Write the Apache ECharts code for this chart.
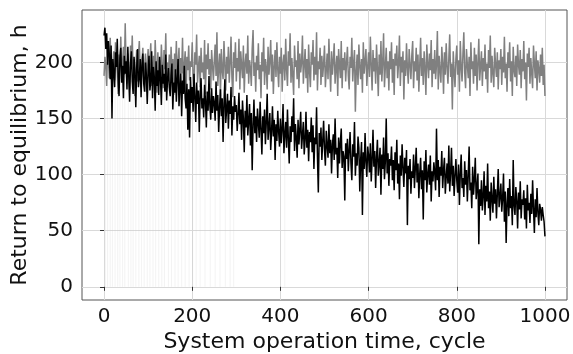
<!DOCTYPE html>
<html>
<head>
<meta charset="utf-8">
<script src="https://cdn.jsdelivr.net/npm/echarts@6/dist/echarts.min.js"></script>
<style>
html,body{margin:0;padding:0;background:#fff;}
#main{width:573px;height:354px;}
</style>
</head>
<body>
<div id="main"></div>
<script>
// cycles sampled every 2
var cycles = [];
for (var c = 0; c <= 1000; c += 2) cycles.push(c);

// grey series (stable around 190), one row = 50 cycles
var greyVals = [
	188,205,196,179,214,201,186,222,193,177,199,210,184,218,203,191,172,207,196,223,185,200,214,189,235,
	197,181,208,192,176,215,199,224,187,203,170,194,211,183,206,219,190,178,201,213,186,195,208,174,199,
	212,188,201,217,179,193,206,184,220,197,173,209,191,202,185,216,198,177,211,194,226,183,200,189,207,
	180,214,195,203,171,208,192,219,186,199,213,176,204,190,222,181,197,210,168,205,193,215,184,201,196,
	218,187,174,209,198,225,182,195,206,178,213,191,200,185,220,172,207,194,217,189,203,176,211,197,184,
	201,216,188,227,179,196,208,170,212,193,185,219,198,175,205,190,214,182,200,223,187,169,209,195,218,
	183,204,192,221,176,210,197,186,215,173,199,208,190,224,181,202,195,179,212,229,188,200,174,206,193,
	217,185,198,168,209,192,222,180,203,195,176,214,189,201,220,183,207,172,196,211,187,218,194,178,205,
	190,213,174,199,207,184,221,193,179,210,197,226,182,204,188,171,215,196,202,185,219,177,208,191,200,
	224,181,197,212,186,203,173,216,192,178,209,198,220,184,205,189,227,175,201,194,213,180,206,187,199,
	215,178,193,208,185,221,196,174,210,189,202,217,181,195,206,170,212,198,186,219,177,204,193,209,183,
	200,214,188,176,205,195,222,183,199,211,156,192,207,180,216,197,185,203,173,218,190,201,212,179,196,
	209,187,223,198,175,211,192,204,181,216,195,170,207,189,219,183,200,226,178,196,213,186,201,175,210,
	194,218,182,203,171,208,197,215,186,199,224,179,205,191,210,167,202,188,217,195,181,212,198,185,206,
	219,177,201,192,213,184,207,174,197,222,188,204,180,210,195,171,216,199,186,208,193,220,178,203,190,
	211,185,198,228,176,206,193,182,214,200,172,209,189,217,196,181,204,225,187,199,158,210,192,178,203,
	215,189,202,174,219,196,183,208,227,191,177,212,198,186,205,170,218,194,201,181,213,188,207,175,200,
	221,184,197,210,179,204,192,216,185,199,173,211,195,224,182,206,190,178,213,198,187,209,176,202,194,
	212,180,205,191,223,186,199,174,209,195,218,183,201,170,214,193,187,206,179,216,198,189,211,177,203,
	192,219,185,200,166,208,196,213,181,204,190,177,215,199,186,210,175,202,194,182,207,188,213,180,198,
	170
];

// black series (decaying), one row = 50 cycles
var blackVals = [
	224,231,212,226,198,219,207,185,215,150,203,192,178,209,196,221,187,170,204,213,182,197,168,206,190,
	201,176,214,188,165,199,210,183,172,205,191,160,195,212,178,186,203,169,197,208,181,174,200,189,163,
	192,206,175,184,210,168,196,187,157,201,179,193,171,205,186,162,198,181,190,174,207,166,185,195,178,
	170,188,199,158,182,173,194,165,186,203,161,178,190,152,184,172,197,168,159,181,140,176,133,187,164,
	178,156,190,169,147,182,163,175,138,171,186,159,168,151,180,166,142,174,157,188,162,149,177,155,170,
	164,148,183,157,171,138,160,176,152,168,129,163,185,146,158,172,141,166,154,178,135,161,149,170,156,
	162,139,154,173,145,158,131,166,150,120,157,142,171,135,148,163,126,155,104,144,167,137,152,129,159,
	146,133,165,140,118,152,137,158,127,147,172,131,143,155,122,139,161,134,149,113,145,130,157,138,125,
	150,128,141,163,119,136,147,124,158,132,110,143,129,152,138,168,121,145,133,115,149,127,140,156,123,
	135,147,118,131,156,124,140,112,138,129,151,120,144,105,133,127,160,116,84,137,125,142,113,130,148,
	122,108,139,126,115,145,119,131,101,127,136,113,150,118,124,97,133,110,129,141,106,121,116,77,128,
	114,132,103,121,138,110,95,127,116,147,99,119,108,134,124,85,113,129,64,120,105,137,111,98,125,
	117,102,128,94,113,140,107,121,88,115,131,99,110,124,82,118,105,133,96,112,150,101,119,90,114,
	108,125,95,113,86,120,104,131,92,110,78,117,99,127,106,89,115,101,122,55,108,96,114,83,103,
	97,118,88,106,124,93,110,79,101,115,87,104,60,112,95,122,84,100,109,91,117,76,103,94,111,
	102,86,141,95,113,80,107,99,121,88,104,115,83,98,110,92,126,85,102,124,90,108,81,99,114,
	95,84,109,73,101,118,88,97,80,112,91,104,76,99,125,86,93,70,107,82,96,115,78,89,101,
	38,87,72,95,68,81,103,64,90,76,110,70,85,59,93,78,66,98,74,87,61,83,105,71,80,
	92,67,79,101,58,85,39,74,88,63,96,70,81,55,113,72,64,89,77,52,84,69,94,61,78,
	73,86,60,79,52,91,68,75,57,83,65,95,70,48,78,62,88,66,55,74,69,59,71,64,58,
	45
];

// faint vertical traces in the early cycles
var faintX = [3,8,14,19,25,31,36,42,47,55,61,66,72,79,85,91,98,104,111,117,124,131,137,146,153,161,168,176,184,193,201,209,218,229,241,252,263,275,286,294,410];
var faintY = [200,196,204,190,208,186,199,194,203,191,198,195,189,204,186,200,193,190,199,187,195,192,186,197,190,181,194,188,183,192,186,180,188,183,178,185,176,182,179,184,172];

var xTicks = [0,200,400,600,800,1000];
var yTicks = [0,50,100,150,200];

function pairs(xs, ys){
	var out = [];
	for (var i = 0; i < xs.length; i++) out.push([xs[i], ys[i]]);
	return out;
}

var font = 'DejaVu Sans';
var chart = echarts.init(document.getElementById('main'));
chart.setOption({
	animation:false,
	grid:{
		left:82, right:6, top:10, bottom:54,
		outerBoundsMode:'none',
		containLabel:false,
		show:true,
		borderColor:'#555',
		borderWidth:1,
	},
	xAxis:{
		type:'value',
		min:-50, max:1050,
		name:'System operation time, cycle',
		nameLocation:'middle',
		nameGap:31,
		nameMoveOverlap:false,
		nameTextStyle:{fontFamily:font, fontSize:22, color:'#111'},
		axisLine:{show:false},
		axisTick:{show:true, length:4, inside:false, customValues:xTicks, lineStyle:{color:'#333'}},
		axisLabel:{customValues:xTicks, fontFamily:font, fontSize:20, color:'#111', margin:7,
			formatter:function(v){return String(v);}},
		splitLine:{show:true, lineStyle:{color:'#d9d9d9', width:1}},
	},
	yAxis:{
		type:'value',
		min:-11.75, max:246.75,
		name:'Return to equilibrium, h',
		nameLocation:'middle',
		nameGap:51,
		nameMoveOverlap:false,
		nameTextStyle:{fontFamily:font, fontSize:22, color:'#111'},
		axisLine:{show:false},
		axisTick:{show:true, length:4, inside:false, customValues:yTicks, lineStyle:{color:'#333'}},
		axisLabel:{customValues:yTicks, fontFamily:font, fontSize:20, color:'#111', margin:9},
		splitLine:{show:true, lineStyle:{color:'#d9d9d9', width:1}},
	},
	series:[
		{
			type:'bar',
			barWidth:1,
			z:1,
			itemStyle:{color:'rgba(200,200,200,0.22)'},
			data:pairs(faintX, faintY),
		},{
			name:'stable',
			type:'line',
			z:2,
			showSymbol:false,
			lineStyle:{color:'#808080', width:1.5},
			data:pairs(cycles, greyVals),
		},{
			name:'decay',
			type:'line',
			z:3,
			showSymbol:false,
			lineStyle:{color:'#000', width:1.5},
			data:pairs(cycles, blackVals),
		}
	]
});
</script>
</body>
</html>
